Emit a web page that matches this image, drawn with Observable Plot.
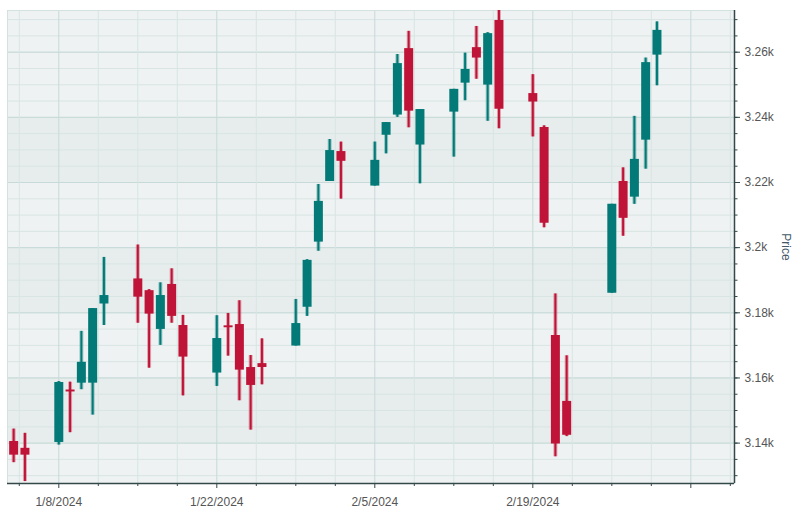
<!DOCTYPE html>
<html><head><meta charset="utf-8">
<script src="https://cdn.jsdelivr.net/npm/d3@7"></script>
<script src="https://cdn.jsdelivr.net/npm/@observablehq/plot@0.6"></script>
<style>html,body{margin:0;padding:0;background:#fff;} svg{display:block}</style>
</head><body><div id="chart"></div>
<script>
const dates = ["2024-01-04","2024-01-05","2024-01-08","2024-01-09","2024-01-10","2024-01-11","2024-01-12",
"2024-01-15","2024-01-16","2024-01-17","2024-01-18","2024-01-19",
"2024-01-22","2024-01-23","2024-01-24","2024-01-25","2024-01-26",
"2024-01-29","2024-01-30","2024-01-31","2024-02-01","2024-02-02",
"2024-02-05","2024-02-06","2024-02-07","2024-02-08","2024-02-09",
"2024-02-12","2024-02-13","2024-02-14","2024-02-15","2024-02-16",
"2024-02-19","2024-02-20","2024-02-21","2024-02-22",
"2024-02-26","2024-02-27","2024-02-28","2024-02-29","2024-03-01"];
const open  = [3140.5,3138.4,3140.2,3156.3,3158.4,3158.4,3182.7, 3190.4,3186.8,3174.9,3188.7,3176.1, 3161.5,3176.0,3176.4,3163.2,3164.4, 3169.8,3181.7,3201.7,3220.3,3229.5, 3218.9,3234.5,3240.7,3261.1,3231.5, 3241.6,3250.5,3261.4,3249.9,3269.7, 3247.3,3236.9,3173.0,3152.8, 3186.0,3220.3,3215.5,3233.0,3259.1];
const high  = [3144.3,3143.0,3158.9,3158.7,3174.3,3181.3,3197.0, 3200.8,3187.1,3189.2,3193.5,3179.2, 3179.1,3179.8,3183.7,3166.9,3172.0, 3184.1,3196.3,3219.4,3233.2,3232.4, 3232.4,3238.4,3259.3,3266.4,3242.4, 3248.6,3259.7,3267.9,3266.0,3274.0, 3253.1,3237.4,3185.8,3166.8, 3213.3,3224.5,3240.3,3258.2,3269.3];
const low   = [3134.0,3128.2,3139.4,3143.2,3156.4,3148.6,3176.1, 3176.8,3163.0,3170.0,3176.8,3154.5, 3157.4,3166.7,3153.0,3144.0,3157.9, 3169.8,3178.9,3198.9,3220.3,3214.9, 3218.9,3228.8,3240.0,3236.8,3219.6, 3227.8,3245.1,3251.7,3238.8,3236.5, 3234.0,3206.1,3135.8,3142.0, 3186.0,3203.5,3213.3,3224.1,3249.7];
const close = [3136.3,3136.3,3158.6,3155.7,3164.8,3181.3,3185.3, 3184.8,3179.6,3185.3,3178.9,3166.4, 3172.1,3175.4,3162.4,3157.7,3163.2, 3176.7,3196.1,3214.2,3229.8,3226.5, 3226.8,3238.4,3256.5,3241.9,3242.4, 3248.6,3254.7,3258.2,3265.7,3242.5, 3244.7,3207.5,3139.7,3142.4, 3213.3,3209.0,3227.1,3256.8,3266.7];

const yMajor = [3140,3160,3180,3200,3220,3240,3260];
const yMinor = d3.range(3130, 3275, 5);
const darkBands = [[3140,3160],[3180,3200],[3220,3240]];
const majorLabels = ["2024-01-08","2024-01-22","2024-02-05","2024-02-19"];
const majorTicks = ["2024-01-08","2024-01-22","2024-02-05","2024-02-19","2024-03-04"];
const yTitle = "Price";

const parse = d3.utcParse("%Y-%m-%d");
const data = dates.map((d, i) => ({date: parse(d), open: open[i], high: high[i], low: low[i], close: close[i]}));
const majorX = majorTicks.map(parse);
const labelSet = new Set(majorLabels.map(s => +parse(s)));
const minorX = d3.range(0, 19).map(k => new Date(Date.UTC(2024,0,4,12) + k * 3.5 * 864e5)).filter(d => !majorX.some(m => +m === +d));

const UP = "#037a77", DOWN = "#bf1438";
const col = d => d.close >= d.open ? UP : DOWN;
const axisColor = "#34484a";
const minorGrid = "#d8e5e3", majorGrid = "#c7dad7";
const yDomain = [3127.6, 3272.8];
const xDomain = [new Date(Date.UTC(2024,0,3,10,55)), new Date(Date.UTC(2024,2,7,20,53))];

const chart = Plot.plot({
  width: 796, height: 514,
  marginLeft: 7, marginRight: 62, marginTop: 10, marginBottom: 31,
  style: {fontFamily: "'Liberation Sans', Arial, sans-serif", fontSize: "12px", background: "#fff"},
  x: {type: "utc", domain: xDomain, label: null},
  y: {domain: yDomain, label: null},
  marks: [
    Plot.frame({fill: "#eef2f2", stroke: null}),
    Plot.rect(darkBands, {y1: d => d[0], y2: d => d[1], fill: "#e7eded"}),
    Plot.ruleY(yMinor, {stroke: minorGrid, strokeWidth: 1}),
    Plot.ruleY(yMajor, {stroke: majorGrid, strokeWidth: 1}),
    Plot.ruleX(minorX, {stroke: minorGrid, strokeWidth: 1}),
    Plot.ruleX(majorX, {stroke: majorGrid, strokeWidth: 1}),
    Plot.frame({stroke: "#d3e1df"}),
    Plot.ruleX(data, {x: "date", y1: "low", y2: "high", stroke: col, strokeWidth: 4, strokeOpacity: 0.35, clip: true}),
    Plot.ruleX(data, {x: "date", y1: "low", y2: "high", stroke: col, strokeWidth: 2, clip: true}),
    Plot.ruleX(data, {x: "date", y1: "open", y2: "close", stroke: col, strokeWidth: 9, strokeLinecap: "butt", clip: true}),
    Plot.ruleY([yDomain[0]], {stroke: axisColor, strokeWidth: 1.5}),
    Plot.ruleX([xDomain[1]], {stroke: axisColor, strokeWidth: 1.5}),
    Plot.axisX(minorX, {tickSize: 3, tickFormat: () => "", stroke: axisColor}),
    Plot.axisX(majorX, {tickSize: 5, tickPadding: 9, stroke: axisColor, fill: "#555",
      tickFormat: d => labelSet.has(+d) ? d3.utcFormat("%-m/%-d/%Y")(d) : ""}),
    Plot.axisY(yMinor, {anchor: "right", tickSize: 2.5, tickFormat: () => "", stroke: axisColor}),
    Plot.axisY(yMajor, {anchor: "right", tickSize: 5, tickPadding: 5, stroke: axisColor, fill: "#555",
      tickFormat: d3.format("~s")}),
    Plot.text([yTitle], {frameAnchor: "right", dx: 51, rotate: 90, textAnchor: "middle", lineAnchor: "middle", fill: "#44596a", fontSize: 12})
  ]
});
document.getElementById("chart").appendChild(chart);
</script></body></html>
